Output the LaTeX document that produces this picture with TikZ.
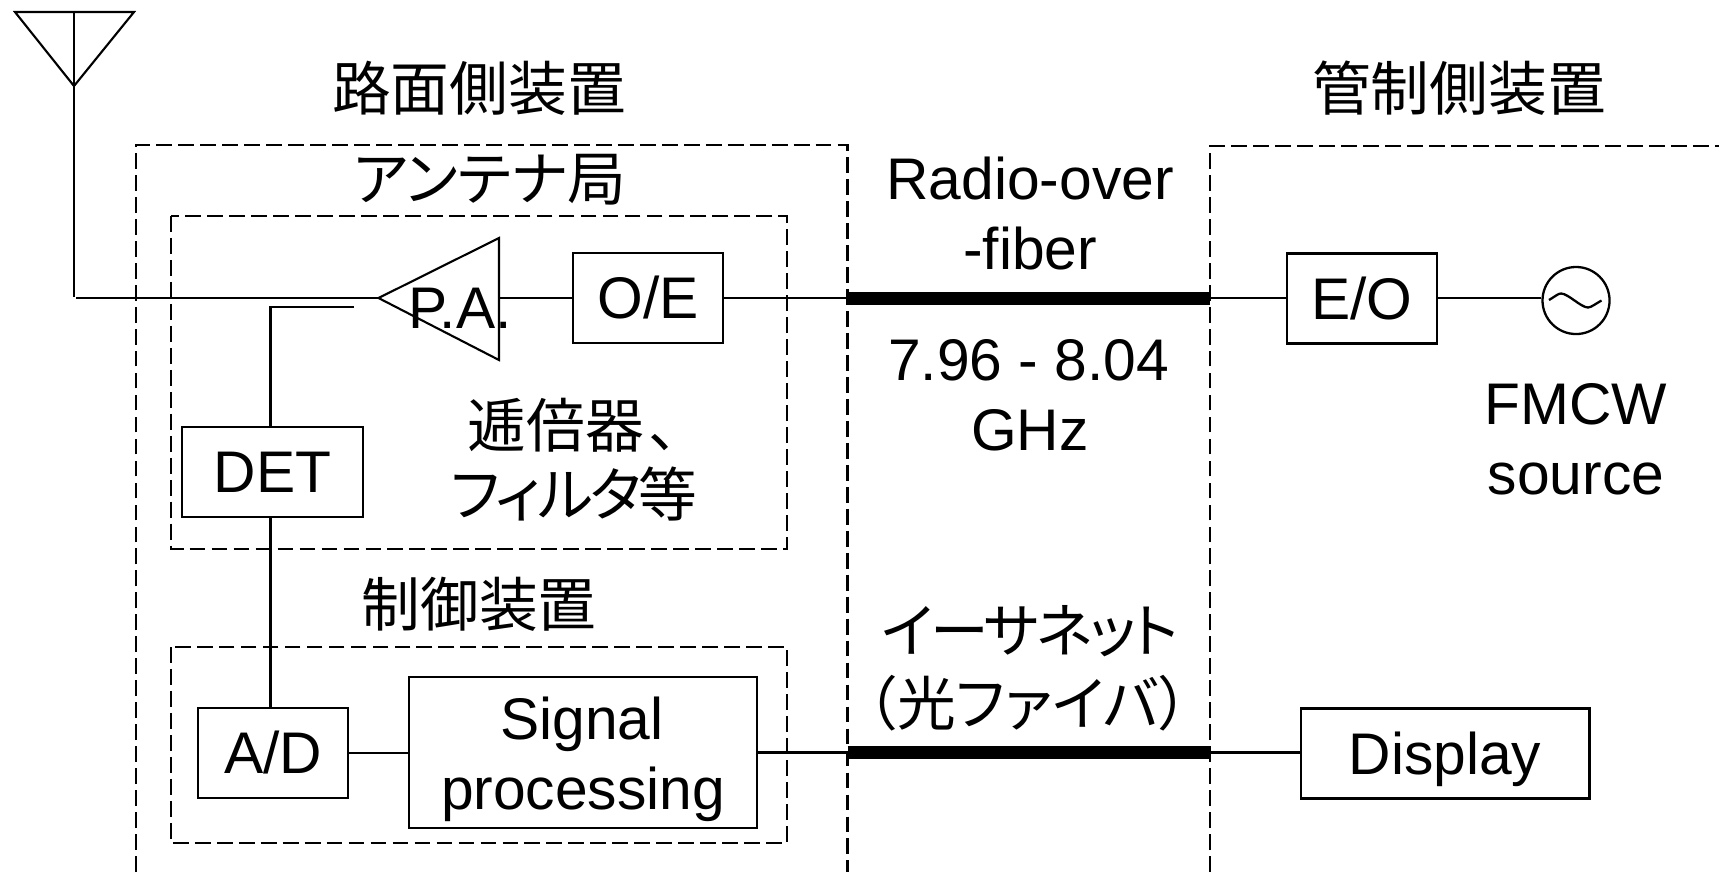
\documentclass[tikz,border=0pt]{standalone}
\usepackage{fontspec}
\setmainfont{Liberation Sans}
\newfontfamily\cjk[RawFeature=+palt]{Noto Sans CJK JP}
\newfontfamily\cjkn[RawFeature=+palt,LetterSpace=-5]{Noto Sans CJK JP}

\tikzset{
	blockbox/.style={draw, line width=0.65pt, inner sep=0pt, text height=0.41cm, text depth=0pt},
	dashbox/.style={draw, dash pattern=on 4.5pt off 1.75pt, line width=0.7pt, inner sep=0pt},
	lbl/.style={inner sep=0pt, align=center, anchor=base},
	wire/.style={line width=0.75pt},
	fiber/.style={line width=3.7pt}
}

\begin{document}
\begin{tikzpicture}[x=0.00999cm, y=-0.00999cm, font=\fontsize{16.7}{20}\selectfont]

\useasboundingbox (0,0) rectangle (1719,872);

% dashed frames
\draw[dashbox] (136,872) -- (136,145) -- (847.5,145) -- (847.5,872);
\draw[dashbox] (1210,872) -- (1210,146) -- (1719,146);
\draw[dashbox] (171,216) rectangle (787,549);
\draw[dashbox] (171,647) rectangle (787,843);

% blocks
\node[blockbox, minimum width=1.5cm, minimum height=0.9cm] (oe) at (648,298) {O/E};
\node[blockbox, minimum width=1.5cm, minimum height=0.9cm] (eo) at (1362,298.5) {E/O};
\node[blockbox, minimum width=1.815cm, minimum height=0.9cm] (det) at (272.5,472) {DET};
\node[blockbox, minimum width=1.5cm, minimum height=0.9cm] (ad) at (273,753) {A/D};
\node[blockbox, minimum width=2.885cm, minimum height=0.9cm] (display) at (1445,753.5) {Display};
\node[draw, line width=0.65pt, minimum width=3.48cm, minimum height=1.51cm] (signal) at (583,752.5) {};
\node[draw, circle, line width=0.65pt, minimum size=0.67cm, inner sep=0pt] (source) at (1576,300.5) {};

% antenna and P.A.
\coordinate (antl) at (15,12);
\coordinate (antr) at (134,12);
\coordinate (anttop) at (74,12);
\coordinate (antapex) at (74,86);
\coordinate (antfoot) at (74,297);
\coordinate (antline) at (76,298);
\coordinate (patip) at (378.5,298);
\coordinate (paup) at (499,238);
\coordinate (padown) at (499,360);
\coordinate (paout) at (500,298);
\coordinate (detend) at (354,307);
\coordinate (detcorner) at (270.5,307);
\draw[line width=0.6pt] (antl) -- (antr) -- (antapex) -- cycle;
\draw[wire] (anttop) -- (antfoot);
\draw[line width=0.6pt] (patip) -- (paup) -- (padown) -- cycle;

% wires
\coordinate (rofl) at (847.5,298);
\coordinate (rofr) at (1210,298);
\coordinate (ethl) at (847.5,752.5);
\coordinate (ethr) at (1210,752.5);
\draw[wire] (antline) -- (patip);
\draw[wire] (paout) -- (oe.west);
\draw[wire] (oe.east) -- (rofl);
\draw[wire] (rofr) -- (rofr -| eo.west);
\draw[wire] (eo.east |- rofr) -- (source.west |- rofr);
\draw[wire] (detend) -- (detcorner) -- (det.north -| detcorner);
\draw[wire] (det.south -| detcorner) -- (ad.north -| detcorner);
\draw[wire] (ad.east) -- (signal.west |- ad.east);
\draw[wire] (signal.east) -- (ethl);
\draw[wire] (ethr) -- (ethr -| display.west);
\draw[fiber] (rofl) -- (rofr);
\draw[fiber] (ethl) -- (ethr);

% sine in the source
\coordinate (sinea) at (1549,300);
\coordinate (sineb) at (1601.5,300.5);
\draw[line width=0.65pt] (sinea) .. controls (1555,296.5) and (1558,293.5) .. (1561,293.5)
	.. controls (1568,293.5) and (1581,307.5) .. (1588,307.5)
	.. controls (1591,307.5) and (1596,303.5) .. (sineb);

% labels
\node[lbl] (pa) at (460,328) {P.A.};
\node[lbl] (fmcw) at (1576,424) {FMCW};
\node[lbl] (srcname) at (1576,494) {source};
\node[lbl] (sig) at (582,739) {Signal};
\node[lbl] (proc) at (583,809) {processing};
\node[lbl] (rof) at (1030,199) {Radio-over};
\node[lbl] (rofb) at (1030,269) {-fiber};
\node[lbl] (freq) at (1028.5,380) {7.96 - 8.04};
\node[lbl] (ghz) at (1030,450) {GHz};
\node[lbl, anchor=center] (roadside) at (479,88) {\cjk 路面側装置};
\node[lbl, anchor=center] (control) at (1459,88) {\cjk 管制側装置};
\node[lbl, anchor=center] (antenna) at (490,180) {\cjk アンテナ局};
\node[lbl, anchor=center] (mult) at (573,425) {\cjk 逓倍器\hspace{0.05cm}、};
\node[lbl, anchor=center] (filter) at (574,494) {\cjkn フィルタ等};
\node[lbl, anchor=center] (ctrl) at (479,604) {\cjk 制御装置};
\node[lbl, anchor=center] (eth) at (1030,631) {\cjkn イーサネット};
\node[lbl, anchor=center] (ethb) at (1028,703) {\cjk （\hspace{0.01cm}光ファイバ\hspace{0.01cm}）};

\end{tikzpicture}
\end{document}
